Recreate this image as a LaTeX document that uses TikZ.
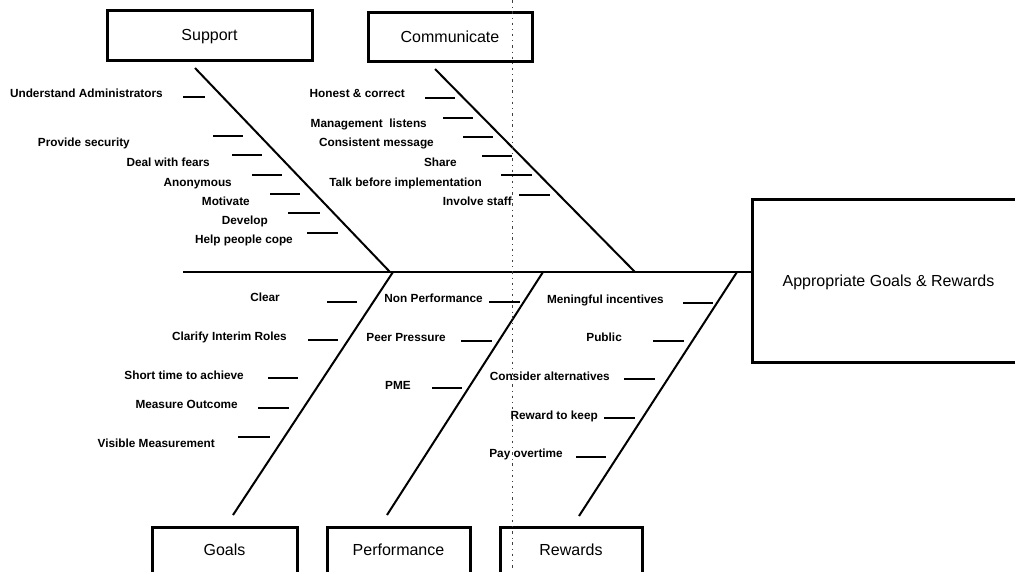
\documentclass[tikz,border=0pt]{standalone}
\usepackage{fontspec}
\setmainfont{Liberation Sans}
% a labelled cause: name, right x, centre y, text, tick start x, tick end x, tick y
\newcommand\fishcause[7]{%
  \node[lbl] (#1) at (#2,#3+4) {#4};
  \draw[tick] (#5,#7) -- (#6,#7);}
\begin{document}
\begin{tikzpicture}[x=1pt,y=-1pt,
  box/.style={draw, line width=3pt, inner sep=0pt, text height=11.5pt, text depth=0pt,
    font=\fontsize{16}{19}\selectfont},
  lbl/.style={inner sep=0pt, anchor=base east, font=\bfseries\fontsize{11.8}{14}\selectfont},
  bone/.style={line width=2pt},
  tick/.style={line width=1.8pt},
  guide/.style={line width=0.6pt, black!75, dash pattern=on 2.5pt off 4pt on 0.8pt off 4pt}]
\useasboundingbox (0,0) rectangle (1015,571);
\clip (0,0) rectangle (1015,571);

% category boxes and the effect box
\node[box, minimum width=205pt, minimum height=50pt] (support) at (209.5,35) {Support};
\node[box, minimum width=164pt, minimum height=49pt] (communicate) at (450,36.5) {Communicate};
\node[box, minimum width=273pt, minimum height=163pt] (effect) at (888.5,280.5) {Appropriate Goals \& Rewards};
\node[box, minimum width=145pt, minimum height=46pt] (goals) at (224.5,550) {Goals};
\node[box, minimum width=143pt, minimum height=46pt] (performance) at (398.5,550) {Performance};
\node[box, minimum width=142pt, minimum height=46pt] (rewards) at (571,550) {Rewards};

% spine
\coordinate (spine-tail) at (183,272);
\draw[bone] (spine-tail) -- (effect.west |- spine-tail);

% bones
\coordinate (sup-tail) at (195,68);   \coordinate (sup-head) at (390,272);
\coordinate (com-tail) at (435,69);   \coordinate (com-head) at (635,272);
\coordinate (goa-tail) at (233,515);  \coordinate (goa-head) at (393,272);
\coordinate (per-tail) at (387,515);  \coordinate (per-head) at (543,272);
\coordinate (rew-tail) at (579,516);  \coordinate (rew-head) at (737,272);
\draw[bone] (sup-tail) -- (sup-head);
\draw[bone] (com-tail) -- (com-head);
\draw[bone] (goa-tail) -- (goa-head);
\draw[bone] (per-tail) -- (per-head);
\draw[bone] (rew-tail) -- (rew-head);

% page fold guide
\coordinate (guide-top) at (512,0);
\coordinate (guide-bot) at (512,571);
\draw[guide] (guide-top) -- (guide-bot);

% Support causes
\fishcause{s1}{163}{93}{Understand Administrators}{183}{205}{97}
\fishcause{s2}{130}{142}{Provide security}{213}{243}{136}
\fishcause{s3}{210}{162}{Deal with fears}{232}{262}{155}
\fishcause{s4}{232}{182}{Anonymous}{252}{282}{175}
\fishcause{s5}{250}{201}{Motivate}{270}{300}{194}
\fishcause{s6}{268}{220}{Develop}{288}{320}{213}
\fishcause{s7}{293}{239}{Help people cope}{307}{338}{233}

% Communicate causes
\fishcause{c1}{405}{93}{Honest \& correct}{425}{455}{98}
\fishcause{c2}{427}{123}{Management\ \ listens}{443}{473}{118}
\fishcause{c3}{434}{142}{Consistent message}{463}{493}{137}
\fishcause{c4}{457}{162}{Share}{482}{512}{156}
\fishcause{c5}{482}{182}{Talk before implementation}{501}{532}{175}
\fishcause{c6}{512}{201}{Involve staff}{519}{550}{195}

% Goals causes
\fishcause{g1}{280}{297}{Clear}{327}{357}{302}
\fishcause{g2}{287}{336}{Clarify Interim Roles}{308}{338}{340}
\fishcause{g3}{244}{375}{Short time to achieve}{268}{298}{378}
\fishcause{g4}{238}{404}{Measure Outcome}{258}{289}{408}
\fishcause{g5}{215}{443}{Visible Measurement}{238}{270}{437}

% Performance causes
\fishcause{p1}{483}{298}{Non Performance}{489}{520}{302}
\fishcause{p2}{446}{337}{Peer Pressure}{461}{492}{341}
\fishcause{p3}{411}{385}{PME}{432}{462}{388}

% Rewards causes
\fishcause{r1}{664}{299}{Meningful incentives}{683}{713}{303}
\fishcause{r2}{622}{337}{Public}{653}{684}{341}
\fishcause{r3}{610}{376}{Consider alternatives}{624}{655}{379}
\fishcause{r4}{598}{415}{Reward to keep}{604}{635}{418}
\fishcause{r5}{563}{453}{Pay overtime}{576}{606}{457}
\end{tikzpicture}
\end{document}
